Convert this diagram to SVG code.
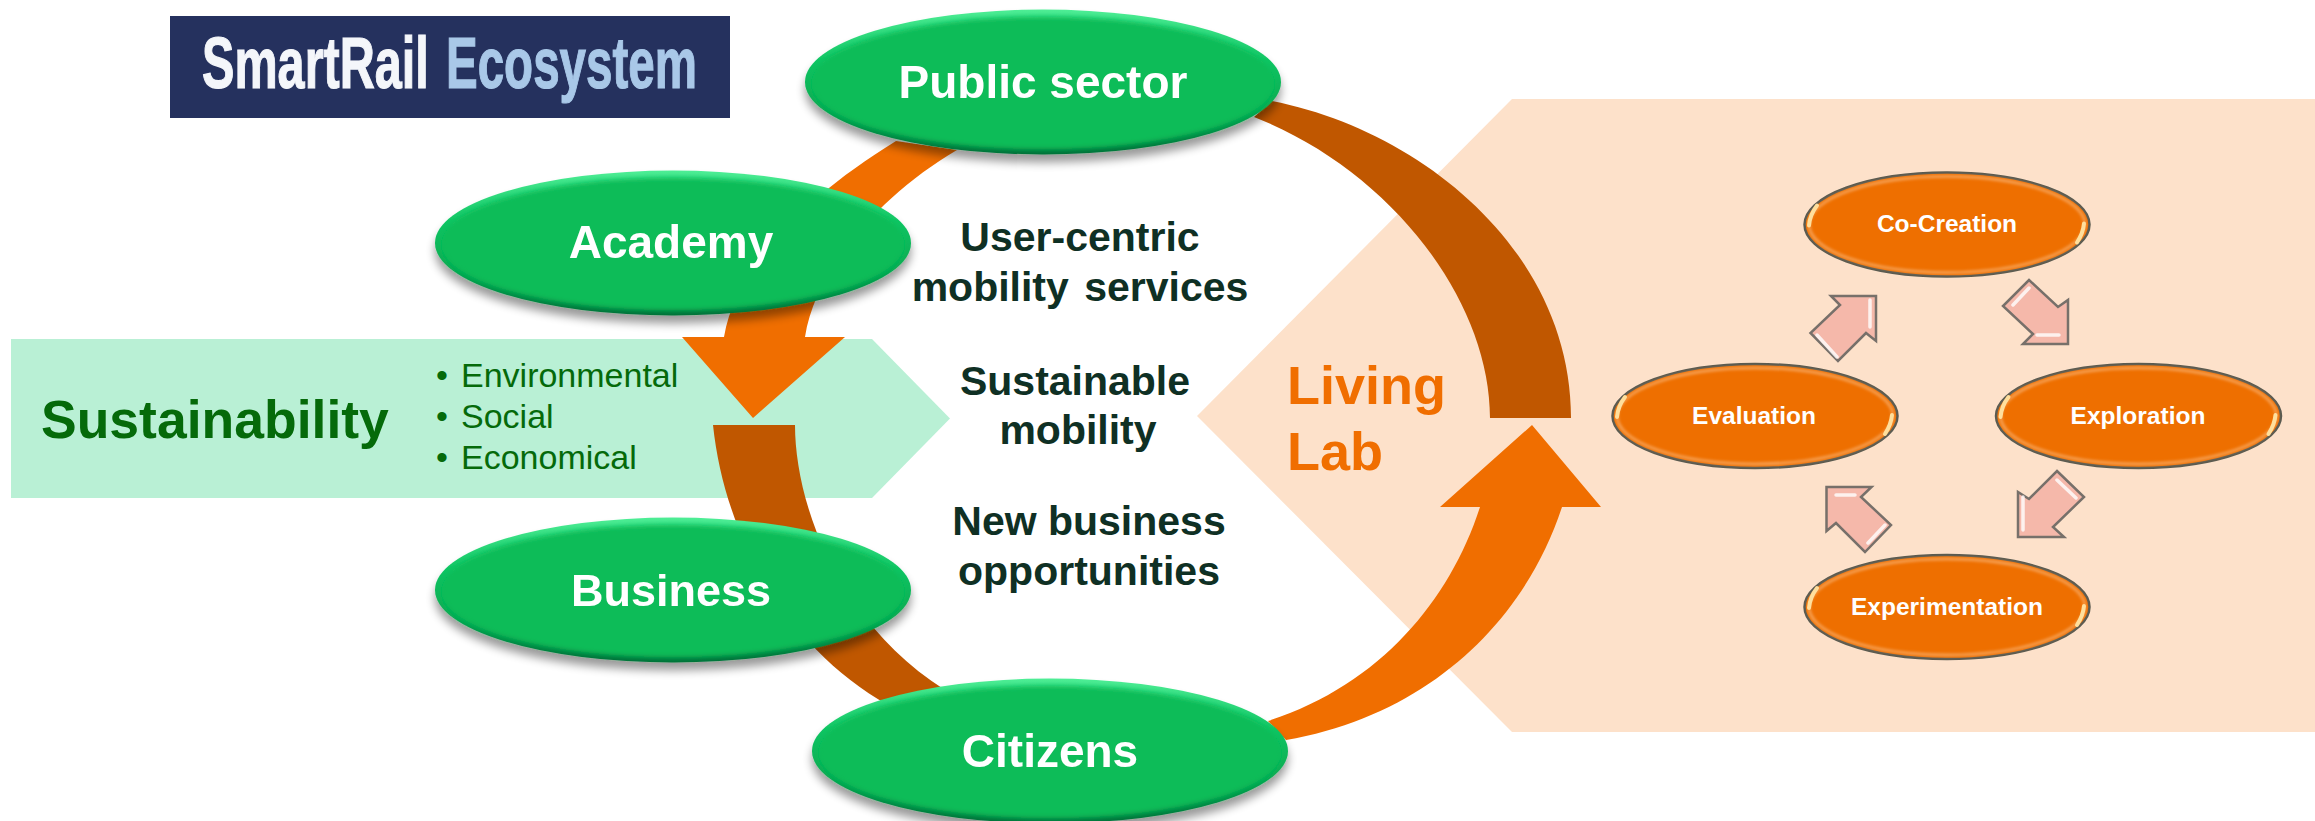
<svg xmlns="http://www.w3.org/2000/svg" xmlns:xlink="http://www.w3.org/1999/xlink" width="2315" height="821" viewBox="0 0 2315 821">
<style>
text{font-family:"Liberation Sans",Arial,sans-serif}
.g{fill:#07bc59}
.nl{font-weight:700;font-size:46px;fill:#fff;text-anchor:middle}
.cl{font-weight:700;font-size:41px;fill:#0f3024;text-anchor:middle}
.sl{font-weight:700;font-size:24.5px;fill:#fff;text-anchor:middle}
.bl{font-size:34px;fill:#056a0a}
.lg{font-size:72px;font-weight:700;stroke-width:1.2px}
.o{fill:#ee6f00;stroke:#5a5a50;stroke-width:2.5}
.p{fill:#f5b8aa;stroke:#77706a;stroke-width:2.5;stroke-linejoin:miter}
.hl{fill:none;stroke:#fff;stroke-opacity:.8;stroke-width:3.5;stroke-linecap:round}
.hy{fill:none;stroke:#ffdf9c;stroke-width:4;stroke-linecap:round}
.brown{fill:#c05700}
.orange{fill:#f06e00}
</style>
<defs>
<filter id="sh" x="-15%" y="-20%" width="130%" height="150%"><feGaussianBlur in="SourceAlpha" stdDeviation="5"/><feOffset dy="8"/><feComponentTransfer><feFuncA type="linear" slope=".4"/></feComponentTransfer><feMerge><feMergeNode/><feMergeNode in="SourceGraphic"/></feMerge></filter>
<filter id="bl3" x="-10%" y="-10%" width="120%" height="120%"><feGaussianBlur stdDeviation="2.500"/></filter>
<filter id="bl2" x="-10%" y="-10%" width="120%" height="120%"><feGaussianBlur stdDeviation="1.800"/></filter>
<linearGradient id="rim" x1="0" y1="0" x2="0" y2="1"><stop offset="0" stop-color="#4eee96"/><stop offset=".35" stop-color="#10c563"/><stop offset=".7" stop-color="#07a850"/><stop offset="1" stop-color="#056f38"/></linearGradient>
<g id="ge"><ellipse rx="238" ry="72.500" fill="url(#rim)"/><ellipse class="g" cy="1" rx="232" ry="66.500" filter="url(#bl3)"/></g>
<g id="oe"><ellipse rx="142.500" ry="52" class="o"/><ellipse rx="138" ry="48" fill="none" stroke="#f8a860" stroke-width="2.500" filter="url(#bl2)"/><path class="hy" d="M-130,-19Q-137,-10-138,1"/><path class="hy" d="M137,-1Q136,9 130,18"/></g>
</defs>

<g id="sustainability">
<path fill="#b9f0d5" d="M11,339H872L950,418.500L872,498H11Z"/>
<text x="41" y="438" font-size="53.500" font-weight="700" fill="#056a0a">Sustainability</text>
<text class="bl" x="436" y="387">•</text><text class="bl" x="461" y="387">Environmental</text>
<text class="bl" x="436" y="428">•</text><text class="bl" x="461" y="428">Social</text>
<text class="bl" x="436" y="469">•</text><text class="bl" x="461" y="469">Economical</text>
</g>

<g id="living-lab">
<path fill="#fde1ca" d="M1512,99H2315V732H1512L1197,416Z"/>
<text x="1287" y="404" font-size="54" font-weight="700" fill="#f06e00">Living</text>
<text x="1287" y="470" font-size="54" font-weight="700" fill="#f06e00">Lab</text>
</g>

<g id="logo">
<rect x="170" y="16" width="560" height="102" fill="#25315e"/>
<text class="lg" transform="translate(202 88) scale(.675 1)" fill="#f4f6fa" stroke="#f4f6fa">SmartRail</text>
<text class="lg" transform="translate(446 88) scale(.66 1)" fill="#a9c8e8" stroke="#a9c8e8">Ecosystem</text>
</g>

<g id="connectors">
<path class="orange" d="M896,141C800,200 735,270 724,337L682,337L753,418L845,337L805,337C815,270 880,195 957,150Z"/>
<path class="brown" d="M713,425L795,425C795,500 835,620 945,690L888,705C790,650 725,540 713,425Z"/>
<path class="orange" d="M1268,721C1380,685 1450,600 1480,507L1440,507L1532,425L1601,507L1562,507C1525,620 1430,715 1286,740Z"/>
<path class="brown" d="M1272,101C1420,130 1571,250 1571,418L1490,418C1490,300 1390,170 1254,117Z"/>
<g id="cycle-arrows">
<path class="p" d="M2029,280L2058,307L2068,300V344H2023L2033,334L2003,306Z"/>
<path class="p" d="M2057,471L2084,497L2053,527L2064,537H2018V492L2029,499Z"/>
<path class="p" d="M1826.500,487H1871.500L1861,497L1891,525L1865,552L1836,523L1826.500,531Z"/>
<path class="p" d="M1876,296V341L1866,333L1838,361L1810.500,333L1840,305L1831,296Z"/>
<path class="hl" d="M2029,288L2013,305M2037,335H2059M2057,480L2076,498M2023,497V530M1836,495H1855M1885,525L1868,543M1870,300V327M1817,335L1837,357"/>
</g>
</g>

<g id="public-sector" filter="url(#sh)"><use xlink:href="#ge" href="#ge" x="1043" y="82"/><text class="nl" x="1043" y="98">Public sector</text></g>
<g id="academy" filter="url(#sh)"><use xlink:href="#ge" href="#ge" x="673" y="243"/><text class="nl" x="671" y="258">Academy</text></g>
<g id="business" filter="url(#sh)"><use xlink:href="#ge" href="#ge" x="673" y="590"/><text class="nl" x="671" y="606" font-size="45" style="font-size:45px">Business</text></g>
<g id="citizens" filter="url(#sh)"><use xlink:href="#ge" href="#ge" x="1050" y="751"/><text class="nl" x="1050" y="767">Citizens</text></g>

<g id="benefits">
<text class="cl" x="1080" y="251">User-centric</text>
<text class="cl" x="1080" y="301" word-spacing="4">mobility services</text>
<text class="cl" x="1075" y="395">Sustainable</text>
<text class="cl" x="1078" y="444">mobility</text>
<text class="cl" x="1089" y="535">New business</text>
<text class="cl" x="1089" y="585">opportunities</text>
</g>

<g id="co-creation"><use xlink:href="#oe" href="#oe" x="1947" y="224.500"/><text class="sl" x="1947" y="232">Co-Creation</text></g>
<g id="exploration"><use xlink:href="#oe" href="#oe" x="2138.500" y="416"/><text class="sl" x="2138" y="424">Exploration</text></g>
<g id="experimentation"><use xlink:href="#oe" href="#oe" x="1947" y="607"/><text class="sl" x="1947" y="615">Experimentation</text></g>
<g id="evaluation"><use xlink:href="#oe" href="#oe" x="1755" y="416"/><text class="sl" x="1754" y="424">Evaluation</text></g>
</svg>
